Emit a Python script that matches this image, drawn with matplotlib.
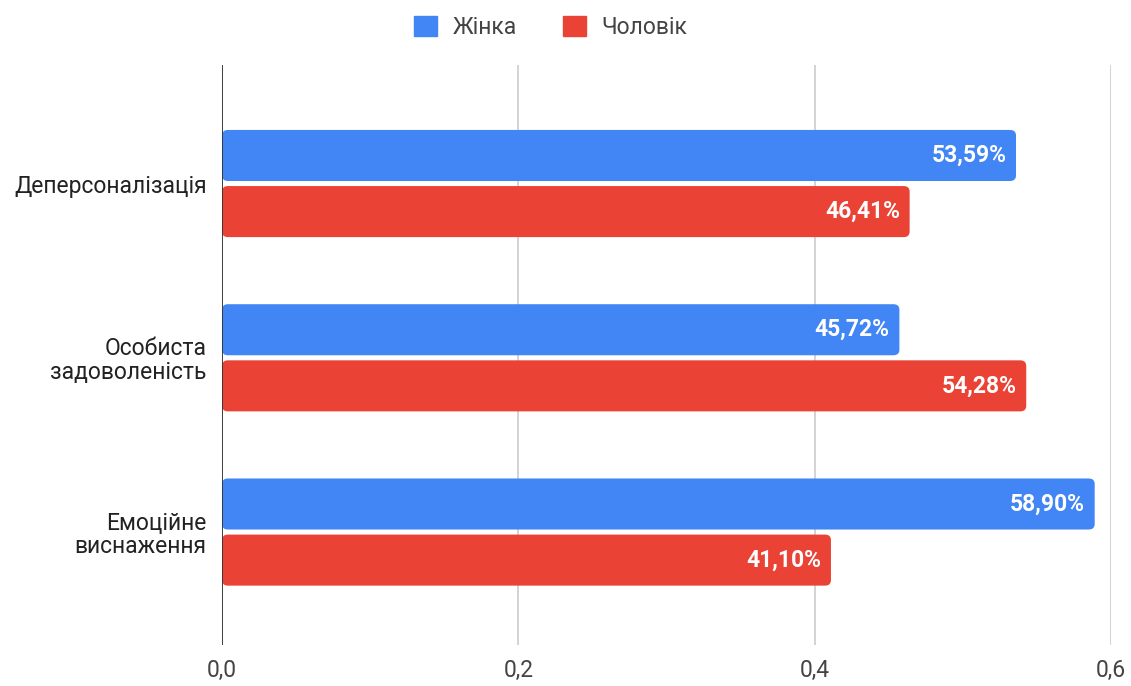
import numpy as np
import matplotlib.pyplot as plt
from matplotlib.patches import FancyBboxPatch

plt.rcParams['font.family'] = ['Roboto', 'DejaVu Sans']

categories = ['Деперсоналізація', 'Особиста\nзадоволеність', 'Емоційне\nвиснаження']
series_names = ['Жінка', 'Чоловік']
women = [0.5359, 0.4572, 0.5890]
men = [0.4641, 0.5428, 0.4110]
x_ticks = [0.0, 0.2, 0.4, 0.6]
x_tick_labels = ['0,0', '0,2', '0,4', '0,6']

COLORS = ['#4285F4', '#EA4335']

fig = plt.figure(figsize=(11.31, 6.86), dpi=100)
ax = fig.add_axes([0.1963, 0.0598, 0.7860, 0.8454])

y = np.arange(len(categories))
bar_h = 0.293
offset = 0.161


def rounded_barh(ax, ys, vals, color):
    for yy, v in zip(ys, vals):
        ax.add_patch(FancyBboxPatch((0, yy - bar_h / 2), v, bar_h,
                                    boxstyle='round,pad=0,rounding_size=0.004',
                                    mutation_aspect=8,
                                    facecolor=color, edgecolor='none', zorder=3))
        label = f'{v * 100:.2f}%'.replace('.', ',')
        ax.text(v - 0.0065, yy, label, ha='right', va='center', color='white',
                fontsize=16.5, fontweight='bold', zorder=4)


rounded_barh(ax, y - offset, women, COLORS[0])
rounded_barh(ax, y + offset, men, COLORS[1])

ax.set_xlim(0, 0.6)
ax.set_ylim(2.648, -0.68)

ax.set_xticks(x_ticks)
ax.set_xticklabels(x_tick_labels, fontsize=16.5, color='#444444')
ax.set_yticks(y)
ax.set_yticklabels(categories, fontsize=16.5, color='#222222', linespacing=1.02)
ax.tick_params(axis='y', length=0, pad=11)
ax.tick_params(axis='x', length=0, pad=10)

ax.grid(axis='x', color='#cccccc', linewidth=1.2, zorder=0)
ax.axvline(0, color='#333333', linewidth=1.3, zorder=5)
for s in ax.spines.values():
    s.set_visible(False)

handles = [plt.Rectangle((0, 0), 1, 1, color=c) for c in COLORS]
fig.legend(handles, series_names, loc='center', bbox_to_anchor=(0.487, 0.96),
           ncol=2, frameon=False, fontsize=16.5, handlelength=1.0, handleheight=1.0,
           columnspacing=2.0, handletextpad=0.7, labelcolor='#444444')

fig.savefig('out.png', dpi=100)
